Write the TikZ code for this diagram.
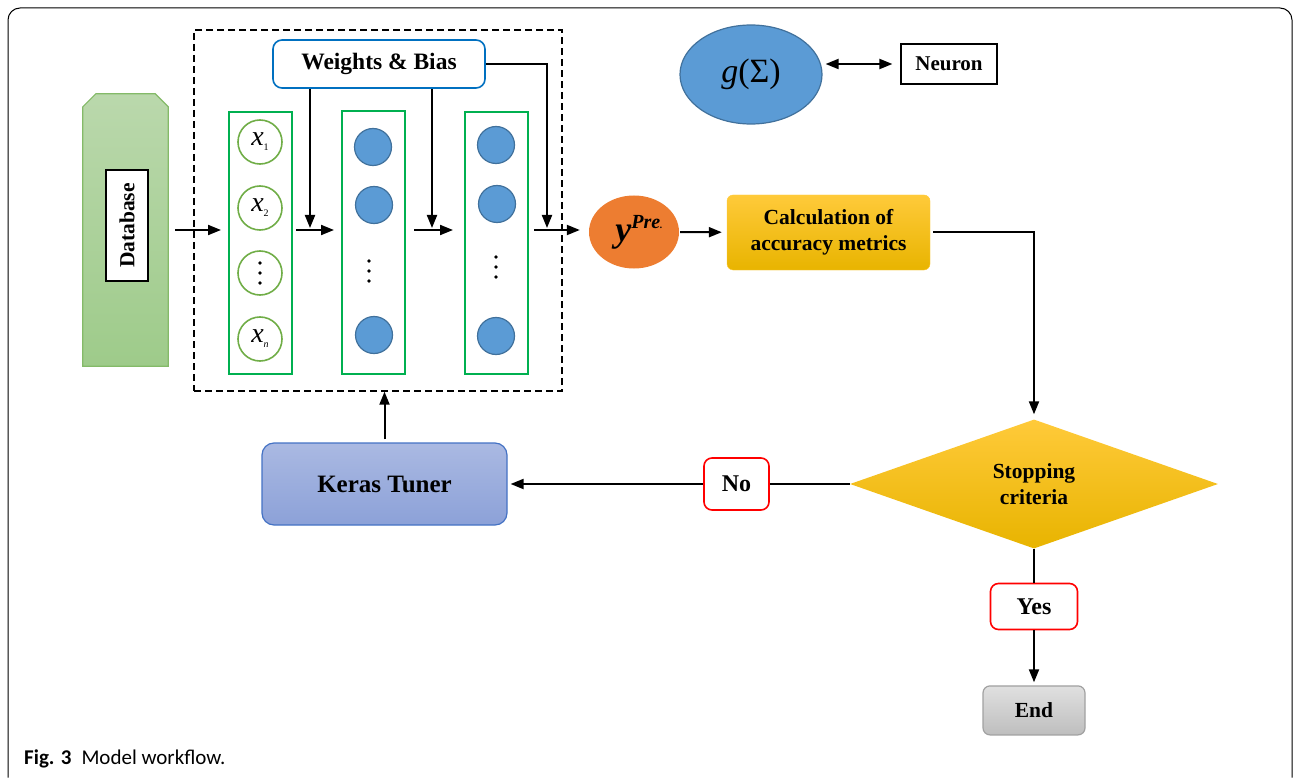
\documentclass[tikz,border=0pt]{standalone}
\usepackage{fontspec}
\setmainfont{Liberation Serif}
\newfontfamily\capfont{Carlito}
\usepackage{tikz}
\usetikzlibrary{shapes}
\usetikzlibrary{arrows.meta}
\usetikzlibrary{positioning}
\definecolor{dbTop}{RGB}{186,216,172}
\definecolor{dbBottom}{RGB}{158,203,138}
\definecolor{dbBorder}{RGB}{132,186,104}
\definecolor{layerGreen}{RGB}{0,176,80}
\definecolor{inGreen}{RGB}{112,173,71}
\definecolor{unitBlue}{RGB}{91,155,213}
\definecolor{unitBorder}{RGB}{65,113,156}
\definecolor{wbBlue}{RGB}{0,112,192}
\definecolor{predOrange}{RGB}{237,125,49}
\definecolor{goldTop}{RGB}{255,202,58}
\definecolor{goldBottom}{RGB}{232,180,0}
\definecolor{kerasTop}{RGB}{170,185,226}
\definecolor{kerasBottom}{RGB}{140,161,216}
\definecolor{kerasBorder}{RGB}{68,114,196}
\definecolor{endTop}{RGB}{224,224,224}
\definecolor{endBottom}{RGB}{190,190,190}
\definecolor{tagRed}{RGB}{255,0,0}
\tikzstyle{bold} = [font={\bfseries\fontsize{21.5}{26}\selectfont}, align=center]
\tikzstyle{layer} = [draw=layerGreen, line width=2pt, minimum width=63pt, minimum height=262pt, inner sep=0pt]
\tikzstyle{inunit} = [circle, draw=inGreen, line width=1.6pt, minimum size=44pt, inner sep=0pt]
\tikzstyle{hidunit} = [circle, draw=unitBorder, fill=unitBlue, line width=1.2pt, minimum size=37pt, inner sep=0pt]
\tikzstyle{tag} = [bold, draw=tagRed, fill=white, rounded corners=8pt, line width=1.6pt, inner sep=0pt]
\tikzstyle{flow} = [-{Triangle[length=13pt, width=10pt]}, line width=2pt]
\tikzstyle{link} = [line width=2pt]
\newcommand{\inp}[1]{{\fontsize{28}{28}\selectfont\textit{x}}\raisebox{-5pt}{\fontsize{10}{10}\selectfont #1}}
\begin{document}
\begin{tikzpicture}[x=1pt, y=-1pt]
        \useasboundingbox (0,0) rectangle (1293,778);
        \draw [line width=1pt, rounded corners=12pt] (8,777.5) -- (8,8) -- (1292,8) -- (1292,777.5);
        \node [minimum width=85pt, minimum height=272pt, inner sep=0pt] (db) at (125.5,230) {};
        \shade [top color=dbTop, bottom color=dbBottom, draw=dbBorder, line width=1.2pt]
            (db.south west) -- ([yshift=-13pt]db.north west) -- ([xshift=13pt]db.north west)
            -- ([xshift=-13pt]db.north east) -- ([yshift=-13pt]db.north east) -- (db.south east) -- cycle;
        \node [bold, draw, fill=white, rotate=90, minimum width=111pt, minimum height=42pt, inner sep=0pt,
            line width=1.2pt] (dblabel) at (127,225.5) {Database};
        \node [draw, dash pattern=on 7pt off 4pt, line width=1.4pt, minimum width=368pt,
            minimum height=361pt, inner sep=0pt] (nnbox) at (378,210.5) {};
        \node [bold, draw=wbBlue, fill=white, rounded corners=9pt, line width=1.6pt,
            minimum width=212pt, minimum height=48pt, inner sep=0pt,
            font={\bfseries\fontsize{23.5}{26}\selectfont}] (wb) at (379,64) {Weights \& Bias};
        \node [layer] (inlayer) at (260.5,243) {};
        \node [layer] (hone) at (373.5,242.5) {};
        \node [layer] (htwo) at (496.5,243) {};
        \node [inunit] (xone) at (260,142) {\inp{1}};
        \node [inunit] (xtwo) at (260,208) {\inp{2}};
        \node [inunit] (xdots) at (260,273) {};
        \node [inunit] (xn) at (260,339) {\inp{\textit{n}}};
        \node [hidunit] (hone1) at (373,147) {};
        \node [hidunit] (hone2) at (374,205) {};
        \node [hidunit] (hone3) at (374,335) {};
        \node [hidunit] (htwo1) at (496,145) {};
        \node [hidunit] (htwo2) at (497,204) {};
        \node [hidunit] (htwo3) at (496,336) {};
        \foreach \dy in {-10,0,10} {
            \fill ([yshift=-\dy pt]xdots.center) circle (1.9pt);
            \fill (369,271+\dy) circle (1.9pt);
            \fill (496,267+\dy) circle (1.9pt);
        }
        \node [ellipse, fill=predOrange, minimum width=90pt, minimum height=73pt, inner sep=0pt] (ypre) at (634,232)
            {\hspace*{10pt}\bfseries\itshape\fontsize{36}{36}\selectfont y\raisebox{13pt}{\fontsize{20}{20}\selectfont Pre\fontsize{10}{10}\selectfont.}};
        \node [bold, top color=goldTop, bottom color=goldBottom, draw=goldTop, rounded corners=6pt,
            minimum width=203pt, minimum height=75pt, inner sep=0pt] (calc) at (828.5,232.5) {Calculation of\\accuracy metrics};
        \node [bold, diamond, top color=goldTop, bottom color=goldBottom, minimum width=368pt,
            minimum height=129pt, inner sep=0pt] (stop) at (1034,484) {Stopping\\criteria};
        \node [tag, minimum width=65pt, minimum height=52pt, font={\bfseries\fontsize{24}{26}\selectfont}] (no) at (736.5,484) {No};
        \node [bold, top color=kerasTop, bottom color=kerasBottom, draw=kerasBorder, rounded corners=12pt,
            line width=1.2pt, minimum width=245pt, minimum height=82pt, inner sep=0pt,
            font={\bfseries\fontsize{25}{28}\selectfont}] (keras) at (384.5,484) {Keras Tuner};
        \node [tag, below=34pt of stop, minimum width=87pt, minimum height=46pt,
            font={\bfseries\fontsize{24}{26}\selectfont}] (yes) {Yes};
        \node [bold, below=55pt of yes, top color=endTop, bottom color=endBottom, draw=endBottom!85!black,
            rounded corners=7pt, line width=1.2pt, minimum width=102pt, minimum height=49pt, inner sep=0pt] (end) {End};
        \node [ellipse, fill=unitBlue, draw=unitBorder, line width=1.2pt, minimum width=142pt, minimum height=99pt,
            inner sep=0pt, font={\fontsize{34}{34}\selectfont}] (gsum) at (751,74.5) {\textit{g}(Σ)};
        \node [bold, draw, line width=1.2pt, minimum width=96pt, minimum height=40pt, inner sep=0pt,
            font={\bfseries\fontsize{21}{24}\selectfont}] (neuron) at (949,64) {Neuron};
        \coordinate (jone) at (310,230);
        \coordinate (jtwo) at (432,230);
        \coordinate (jthree) at (547,230);
        \draw [flow, shorten <=7pt, shorten >=7pt] (db.east) -- (db -| inlayer.west);
        \draw [flow, shorten <=3pt, shorten >=7pt] (inlayer.east |- db) -- (hone.west |- db);
        \draw [flow, shorten <=8pt, shorten >=11pt] (hone.east |- db) -- (htwo.west |- db);
        \draw [flow, shorten <=5pt, shorten >=9pt] (htwo.east |- db) -- (ypre.west |- db);
        \draw [flow, shorten >=2pt] (wb.south -| jone) -- (jone);
        \draw [flow, shorten >=2pt] (wb.south -| jtwo) -- (jtwo);
        \draw [flow, shorten >=2pt] (wb.east) -| (jthree);
        \draw [flow, shorten <=1pt, shorten >=5pt] (ypre) -- (calc);
        \draw [flow, shorten <=3pt, shorten >=5pt] (calc.east) -| (stop.north);
        \draw [link] (stop.west) -- (no.east);
        \draw [flow, shorten >=3pt] (no.west) -- (keras.east);
        \draw [flow, shorten <=3pt] (keras.north) -- (keras.north |- nnbox.south);
        \draw [link] (stop.south) -- (yes.north);
        \draw [flow, shorten >=3pt] (yes.south) -- (end.north);
        \draw [{Triangle[length=13pt, width=10pt]}-{Triangle[length=13pt, width=10pt]}, line width=2pt,
            shorten <=3pt, shorten >=8pt] (gsum.east |- neuron.west) -- (neuron.west);
        \node [anchor=base west, inner sep=0pt, font={\capfont\fontsize{21}{24}\selectfont}] (caption) at (24,764)
            {\textbf{Fig. 3}\hspace{10pt}Model workflow.};
\end{tikzpicture}
\end{document}
